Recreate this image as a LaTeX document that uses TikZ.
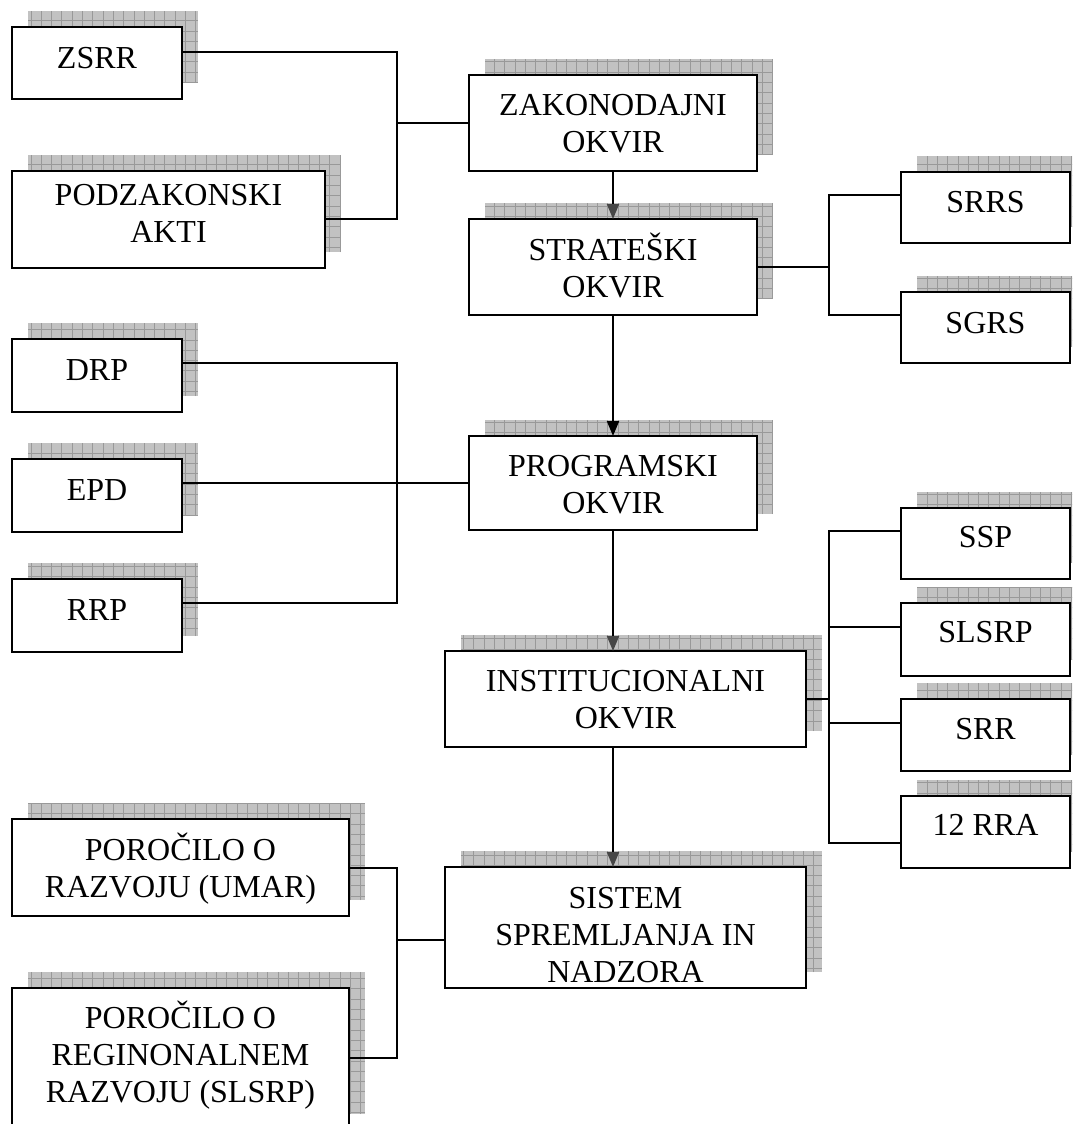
\documentclass[tikz,border=0pt]{standalone}
\usepackage{fontspec}
\setmainfont{Liberation Serif}
\usetikzlibrary{arrows.meta}
\tikzset{
  boxst/.style={draw=black, line width=1.9pt, fill=white, rectangle, inner sep=0pt, outer sep=0pt},
  txt/.style={font=\fontsize{32}{37}\selectfont, align=center, anchor=base, inner sep=0pt},
  shfill/.style={fill=black!24},
  shgrid/.style={draw=black!40, line width=0.7pt},
  conn/.style={draw=black, line width=1.9pt},
  arrblack/.style={conn, -{Triangle[width=12pt,length=15pt]}},
  arrgray/.style={conn, -{Triangle[width=12pt,length=15pt,color=black!72]}},
}
% name, x1, y1, x2, y2, first-baseline offset, text, number of lines
\newcommand\obox[8]{%
  \fill[shfill] (#2+16,#3-16) rectangle (#4+16,#5-16);
  \draw[shgrid] (#2+16,#3-16) grid[xstep=10.3pt,ystep=10.3pt] (#4+16,#5-16);
  \node[boxst, minimum width=#4-#2, minimum height=#5-#3] (#1) at ({(#2+#4)/2},{(#3+#5)/2}) {};
  \node[txt] (#1-t) at ({(#2+#4)/2},{#3+#6+(#8-1)*37}) {#7};
}
\begin{document}
\begin{tikzpicture}[x=1pt,y=-1pt]
\useasboundingbox (0,0) rectangle (1072,1124);
\clip (0,0) rectangle (1072,1124);
\fill[white] (0,0) rectangle (1072,1124);

\obox{zsrr}{12}{27}{182}{99}{41}{ZSRR}{1}
\obox{podz}{12}{171}{325}{268}{34}{PODZAKONSKI\\AKTI}{2}
\obox{zakon}{469}{75}{757}{171}{40}{ZAKONODAJNI\\OKVIR}{2}
\obox{strat}{469}{219}{757}{315}{41}{STRATEŠKI\\OKVIR}{2}
\obox{srrs}{901}{172}{1070}{243}{40}{SRRS}{1}
\obox{sgrs}{901}{292}{1070}{363}{41}{SGRS}{1}
\obox{drp}{12}{339}{182}{412}{41}{DRP}{1}
\obox{epd}{12}{459}{182}{532}{41}{EPD}{1}
\obox{rrp}{12}{579}{182}{652}{41}{RRP}{1}
\obox{prog}{469}{436}{757}{530}{40}{PROGRAMSKI\\OKVIR}{2}
\obox{ssp}{901}{508}{1070}{579}{39}{SSP}{1}
\obox{slsrp}{901}{603}{1070}{676}{39}{SLSRP}{1}
\obox{srr}{901}{699}{1070}{771}{40}{SRR}{1}
\obox{rra}{901}{796}{1070}{868}{39}{12 RRA}{1}
\obox{inst}{445}{651}{806}{747}{40}{INSTITUCIONALNI\\OKVIR}{2}
\obox{sistem}{445}{867}{806}{988}{41}{SISTEM\\SPREMLJANJA IN\\NADZORA}{3}
\obox{por1}{12}{819}{349}{916}{41}{POROČILO O\\RAZVOJU (UMAR)}{2}
\obox{por2}{12}{988}{349}{1130}{40}{POROČILO O\\REGINONALNEM\\RAZVOJU (SLSRP)}{3}

% group 1
\coordinate (b1t) at (397,52);
\coordinate (b1b) at (397,219);
\draw[conn] (zsrr.east |- b1t) -- (b1t) -- (b1b) -- (podz.east |- b1b);
\draw[conn] (zakon.west) -- (zakon.west -| b1t);
% group 2
\coordinate (b2t) at (829,195);
\coordinate (b2b) at (829,315);
\draw[conn] (strat.east) -- (strat.east -| b2t);
\draw[conn] (srrs.west |- b2t) -- (b2t) -- (b2b) -- (sgrs.west |- b2b);
% group 3
\coordinate (b3t) at (397,363);
\coordinate (b3b) at (397,603);
\draw[conn] (drp.east |- b3t) -- (b3t) -- (b3b) -- (rrp.east |- b3b);
\draw[conn] (epd.east |- prog.west) -- (prog.west);
% group 4
\coordinate (b4t) at (829,531);
\coordinate (b4b) at (829,843);
\coordinate (b4c) at (829,627);
\coordinate (b4d) at (829,723);
\draw[conn] (inst.east) -- (inst.east -| b4t);
\draw[conn] (ssp.west |- b4t) -- (b4t) -- (b4b) -- (rra.west |- b4b);
\draw[conn] (b4c) -- (slsrp.west |- b4c);
\draw[conn] (b4d) -- (srr.west |- b4d);
% group 5
\coordinate (b5t) at (397,868);
\coordinate (b5b) at (397,1058);
\coordinate (b5m) at (397,940);
\draw[conn] (por1.east |- b5t) -- (b5t) -- (b5b) -- (por2.east |- b5b);
\draw[conn] (b5m) -- (b5m -| sistem.west);

% arrows
\draw[arrgray] (zakon.south) -- (strat.north);
\draw[arrblack] (strat.south) -- (prog.north);
\draw[arrgray] (prog.south) -- (prog.south |- inst.north);
\draw[arrgray] (inst.south -| prog.south) -- (prog.south |- sistem.north);
\end{tikzpicture}
\end{document}
